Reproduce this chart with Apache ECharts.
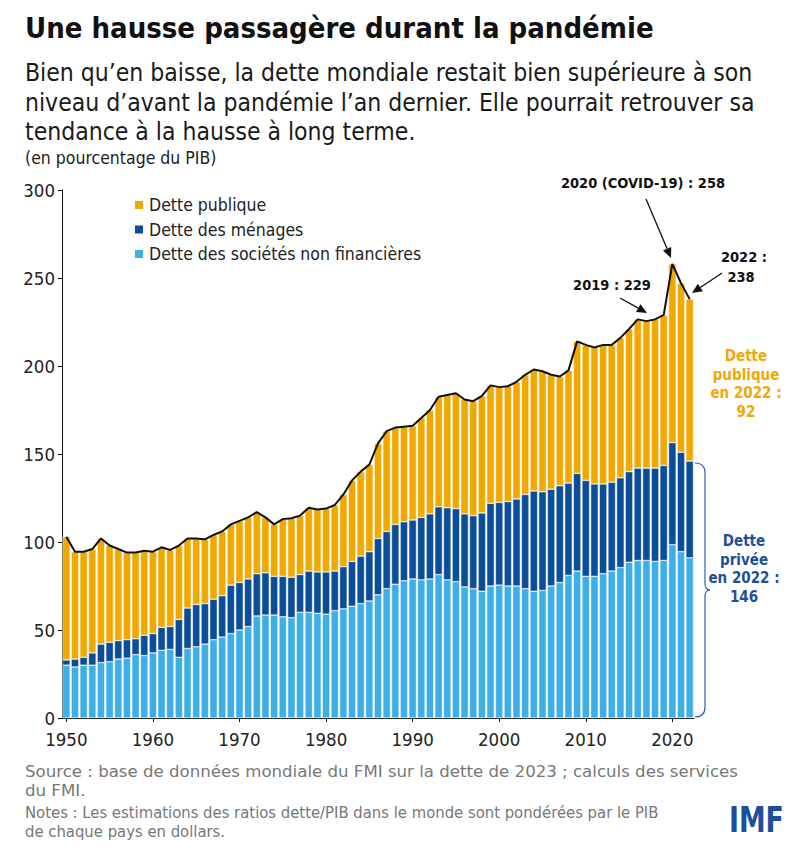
<!DOCTYPE html>
<html>
<head>
<meta charset="utf-8">
<script src="https://cdn.jsdelivr.net/npm/echarts@6/dist/echarts.min.js"></script>
<style>
  html, body { margin: 0; padding: 0; background: #fff; }
  #chart { width: 797px; height: 857px; }
</style>
</head>
<body>
<div id="chart"></div>
<script>
// ---- Data (percent of GDP) ----
const firstYear = 1950;
const lastYear = 2022;
const years = [];
for (let y = firstYear; y <= lastYear; y++) years.push(String(y));

// Non-financial corporate debt
const corporateDebt = [
  30, 29, 30, 30, 31.5, 32, 33.5, 34, 36, 35.5,
  37, 38.5, 39, 34.5, 39.5, 40.5, 42, 44.5, 46, 48,
  50, 52, 58, 58.5, 58.5, 57.5, 57, 60, 60, 59.5,
  59, 61, 62, 63.5, 65, 66.5, 70, 73.5, 76, 78,
  79, 78.5, 79, 81.5, 78.5, 77.5, 74.5, 73.5, 72, 75,
  75.5, 75, 75, 73.5, 72, 72.5, 75, 77, 81, 83.5,
  80.5, 80.5, 82, 83.5, 85.5, 88.5, 89.5, 89.5, 89, 89.5,
  98.5, 94.5, 91
];
// Household debt
const householdDebt = [
  3, 4.5, 4.5, 7, 10.5, 11, 10.5, 10.5, 9, 11.5,
  11, 13, 13, 21.5, 23, 24, 23, 23, 23.5, 27.5,
  27, 27, 24, 24, 22, 23, 23, 21.5, 23.5, 23.5,
  24, 22.5, 24, 25.5, 27, 28, 32, 32.5, 34, 33.5,
  33.5, 35.5, 37, 38.5, 41, 41.5, 41.5, 41.5, 44.5, 47,
  47, 48, 49.5, 53.5, 57, 56, 55, 55, 52.5, 55.5,
  54.5, 52.5, 51, 50.5, 51, 51.5, 52.5, 52.5, 53, 54,
  58, 56.5, 55
];
// Public debt
const publicDebt = [
  70, 61, 60, 59, 60, 55, 52, 49.5, 49, 48,
  46.5, 45.5, 43.5, 42, 39.5, 37.5, 36.5, 36.5, 36.5, 34.5,
  35, 35, 35, 31.5, 29.5, 32.5, 33.5, 33.5, 36, 35.5,
  36, 37.5, 41, 46, 48, 49.5, 54, 57, 55, 54,
  53.5, 56.5, 59, 62.5, 64, 65.5, 65, 65, 66.5, 67,
  65.5, 65.5, 66.5, 68, 69, 68.5, 65, 62, 64, 75,
  77, 77.5, 79, 78, 79.5, 81, 84.5, 83.5, 84.5, 85.5,
  101.5, 96, 92
];
const totalDebt = corporateDebt.map((v, i) => +(v + householdDebt[i] + publicDebt[i]).toFixed(1));

const yTicks = [0, 50, 100, 150, 200, 250, 300];
const seriesNames = ['Dette des sociétés non financières', 'Dette des ménages', 'Dette publique'];

// ---- Styles ----
const FONT = '"DejaVu Sans Condensed", "DejaVu Sans", sans-serif';
const C_PUBLIC = '#F0A900';
const C_HOUSE = '#0B4D96';
const C_CORP = '#3DAFE4';
const C_TEXTBLUE = '#1E4F97';

function arrow(x1, y1, x2, y2) {
  const ang = Math.atan2(y2 - y1, x2 - x1);
  const L = 10, W = 4.5;
  const bx = x2 - L * Math.cos(ang), by = y2 - L * Math.sin(ang);
  const px = -Math.sin(ang) * W, py = Math.cos(ang) * W;
  return [
    { type: 'line', shape: { x1: x1, y1: y1, x2: bx, y2: by }, style: { stroke: '#111', lineWidth: 1.3 }, z: 100 },
    { type: 'polygon', shape: { points: [[x2, y2], [bx + px, by + py], [bx - px, by - py]] }, style: { fill: '#111' }, z: 100 }
  ];
}

function txt(x, y, text, size, opts) {
  opts = opts || {};
  const st = {
    text: text,
    font: (opts.weight || 'normal') + ' ' + size + 'px ' + FONT,
    fill: opts.color || '#222',
    textAlign: opts.align || 'left',
    textVerticalAlign: opts.valign || 'middle'
  };
  if (opts.lineHeight) st.lineHeight = opts.lineHeight;
  const el = { type: 'text', x: x, y: y, z: 100, style: st };
  if (opts.scaleX) el.scaleX = opts.scaleX;
  return el;
}

const BR = { stroke: '#2C62A8', lineWidth: 1.2, fill: null };
const brace = [
  { type: 'bezierCurve', z: 100, shape: { x1: 695, y1: 463, cpx1: 705, cpy1: 463, x2: 705, y2: 473 }, style: BR },
  { type: 'line', z: 100, shape: { x1: 705, y1: 473, x2: 705, y2: 583 }, style: BR },
  { type: 'bezierCurve', z: 100, shape: { x1: 705, y1: 583, cpx1: 705, cpy1: 590, x2: 710, y2: 590 }, style: BR },
  { type: 'bezierCurve', z: 100, shape: { x1: 710, y1: 590, cpx1: 705, cpy1: 590, x2: 705, y2: 597 }, style: BR },
  { type: 'line', z: 100, shape: { x1: 705, y1: 597, x2: 705, y2: 707 }, style: BR },
  { type: 'bezierCurve', z: 100, shape: { x1: 705, y1: 707, cpx1: 705, cpy1: 717, x2: 695, y2: 717 }, style: BR }
];

const FOOT = { color: '#777', scaleX: 1.12 };
const NOTE = { color: '#777', scaleX: 1.0 };
const graphics = [
  txt(25, 28, 'Une hausse passagère durant la pandémie', 29, { weight: 'bold', color: '#111' }),
  txt(25, 72, 'Bien qu\u2019en baisse, la dette mondiale restait bien supérieure à son', 24.5, { color: '#1a1a1a' }),
  txt(25, 102, 'niveau d\u2019avant la pandémie l\u2019an dernier. Elle pourrait retrouver sa', 24.5, { color: '#1a1a1a' }),
  txt(25, 131, 'tendance à la hausse à long terme.', 24.5, { color: '#1a1a1a' }),
  txt(25, 158, '(en pourcentage du PIB)', 17.5, { color: '#222' }),

  txt(643, 183, '2020 (COVID-19) : 258', 14.5, { weight: 'bold', color: '#111', align: 'center' }),
  txt(744, 257, '2022 :', 14.5, { weight: 'bold', color: '#111', align: 'center' }),
  txt(741, 277, '238', 14.5, { weight: 'bold', color: '#111', align: 'center' }),
  txt(612, 285, '2019 : 229', 14.5, { weight: 'bold', color: '#111', align: 'center' }),
  ...arrow(646, 199, 671, 258),
  ...arrow(722, 273, 692, 293),
  ...arrow(620, 298, 647, 313),

  txt(746, 347, 'Dette\npublique\nen 2022 :\n92', 15, { weight: 'bold', color: C_PUBLIC, align: 'center', valign: 'top', lineHeight: 18.5 }),
  txt(744, 532, 'Dette\nprivée\nen 2022 :\n146', 15, { weight: 'bold', color: C_TEXTBLUE, align: 'center', valign: 'top', lineHeight: 18.5 }),
  ...brace,

  txt(25, 771, 'Source : base de données mondiale du FMI sur la dette de 2023 ; calculs des services', 16.5, FOOT),
  txt(25, 790, 'du FMI.', 16.5, FOOT),
  txt(25, 812, 'Notes : Les estimations des ratios dette/PIB dans le monde sont pondérées par le PIB', 16.5, NOTE),
  txt(25, 831, 'de chaque pays en dollars.', 16.5, NOTE),
  {
    type: 'text', x: 729, y: 820, z: 100, scaleX: 0.85,
    style: { text: 'IMF', font: 'bold 35px ' + FONT, fill: '#1D4F9C', textAlign: 'left', textVerticalAlign: 'middle' }
  }
];

const chart = echarts.init(document.getElementById('chart'), null, { renderer: 'svg' });
const isDecade = (idx, val) => Number(val) % 10 === 0;

chart.setOption({
  animation: false,
  backgroundColor: '#fff',
  textStyle: { fontFamily: FONT },
  grid: { left: 62, right: 103, top: 190, bottom: 139, containLabel: false },
  legend: {
    data: [seriesNames[2], seriesNames[1], seriesNames[0]],
    orient: 'vertical',
    left: 128, top: 191,
    icon: 'rect', itemWidth: 10, itemHeight: 10, itemGap: 6.5,
    textStyle: { fontSize: 17.5, color: '#222', fontFamily: FONT, lineHeight: 17 },
    selectedMode: false
  },
  xAxis: {
    type: 'category',
    data: years,
    boundaryGap: true,
    axisLine: { show: true, lineStyle: { color: '#111', width: 1 } },
    axisTick: { show: true, alignWithLabel: true, interval: isDecade, length: 4, lineStyle: { color: '#111' } },
    axisLabel: { interval: isDecade, fontSize: 18.5, color: '#222', margin: 12, fontFamily: FONT }
  },
  yAxis: {
    type: 'value',
    min: yTicks[0], max: yTicks[yTicks.length - 1], interval: 50,
    axisLine: { show: true, lineStyle: { color: '#111', width: 1 } },
    axisTick: { show: true, length: 4, lineStyle: { color: '#111' } },
    axisLabel: { fontSize: 18.5, color: '#222', margin: 7, fontFamily: FONT },
    splitLine: { show: false }
  },
  series: [
    { name: seriesNames[0], type: 'bar', stack: 'd', data: corporateDebt, barWidth: '88%',
      itemStyle: { color: C_CORP, borderColor: '#fff', borderWidth: 0.5 } },
    { name: seriesNames[1], type: 'bar', stack: 'd', data: householdDebt, barWidth: '88%',
      itemStyle: { color: C_HOUSE, borderColor: '#fff', borderWidth: 0.5 } },
    { name: seriesNames[2], type: 'bar', stack: 'd', data: publicDebt, barWidth: '88%',
      itemStyle: { color: C_PUBLIC, borderColor: '#fff', borderWidth: 0.5 } },
    { name: 'Total', type: 'line', data: totalDebt, symbol: 'none', z: 5,
      lineStyle: { color: '#111', width: 2 } }
  ],
  graphic: graphics
});
</script>
</body>
</html>
